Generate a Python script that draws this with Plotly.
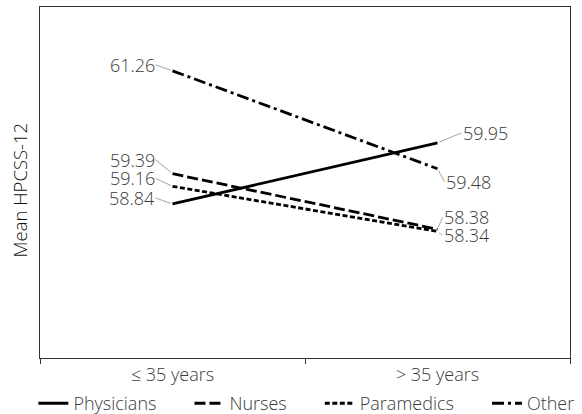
import plotly.graph_objects as go

categories = ["≤ 35 years", "> 35 years"]
series_names = ["Physicians", "Nurses", "Paramedics", "Other"]
physicians = [58.84, 59.95]
nurses = [59.39, 58.38]
paramedics = [59.16, 58.34]
other = [61.26, 59.48]
y_title = "Mean HPCSS-12"

values = [physicians, nurses, paramedics, other]
dashes = ["solid", "11px,4px", "5px,2.5px", "12px,4px,3px,4px"]

# label offsets in pixels (left point, right point)
label_offsets = {
    "Physicians": [(-17, -6), (24, -10)],
    "Nurses": [(-17, -14), (5, -12)],
    "Paramedics": [(-17, -8), (5, 4)],
    "Other": [(-17, -6), (7, 13)],
}

FONT = "Open Sans"
TXT = "#3a3a3a"
PAD = "\u00a0" * 6

fig = go.Figure()
for i, (name, vals, dash) in enumerate(zip(series_names, values, dashes)):
    fig.add_trace(go.Scatter(
        x=categories, y=vals, mode="lines",
        name=name + (PAD if i < len(series_names) - 1 else ""),
        line=dict(color="black", width=2.8, dash=dash),
    ))
    for j, (cat, v) in enumerate(zip(categories, vals)):
        ax, ay = label_offsets[name][j]
        fig.add_annotation(
            x=cat, y=v, text=f"{v:.2f}", showarrow=True,
            arrowhead=0, arrowwidth=0.9, arrowcolor="#9a9a9a",
            ax=ax, ay=ay, standoff=2,
            xanchor="right" if j == 0 else "left", yanchor="middle",
            font=dict(family=FONT, size=18, color=TXT, weight=300),
            borderpad=0,
        )

# y-axis title as rotated text
fig.add_annotation(
    xref="paper", yref="paper", x=-0.038, y=0.48, text=y_title,
    textangle=-90, showarrow=False, xanchor="center", yanchor="middle",
    font=dict(family=FONT, size=18.5, color="#111111", weight=300),
)

fig.update_layout(
    width=582, height=414,
    margin=dict(l=40, r=12, t=7, b=56, autoexpand=False),
    paper_bgcolor="white", plot_bgcolor="white",
    font=dict(family=FONT, size=18, color=TXT, weight=300),
    showlegend=True,
    legend=dict(orientation="h", x=-0.0125, xanchor="left", y=-0.077, yanchor="top",
                font=dict(family=FONT, size=18, color=TXT, weight=300),
                itemclick=False, bgcolor="rgba(0,0,0,0)"),
)
fig.update_xaxes(
    type="category", range=[-0.5, 1.5], automargin=False,
    showline=True, linecolor="#333333", linewidth=1.3, mirror=True,
    ticks="outside", tickson="boundaries", ticklen=5, tickcolor="#333333",
    showgrid=False, zeroline=False,
    tickfont=dict(family=FONT, size=18, color=TXT, weight=300),
)
fig.update_yaxes(
    range=[56.04, 62.42], automargin=False,
    showline=True, linecolor="#333333", linewidth=1.3, mirror=True,
    showticklabels=False, ticks="", showgrid=False, zeroline=False,
)

fig.write_html("out.html", config={"displayModeBar": False},
               post_script="document.body.style.margin='0';")
